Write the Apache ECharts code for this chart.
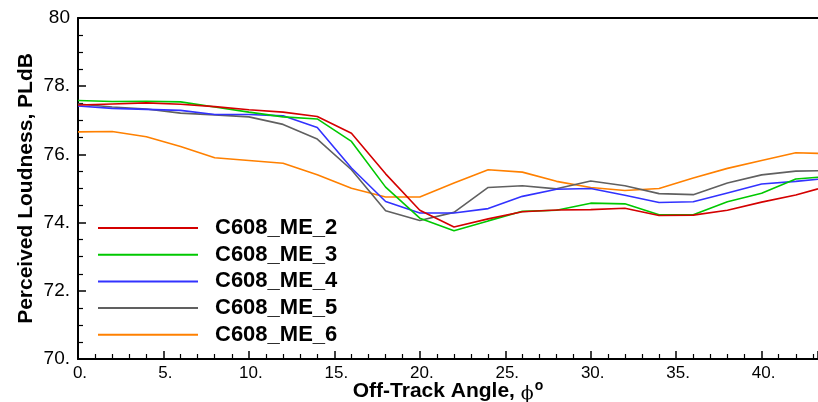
<!DOCTYPE html>
<html><head><meta charset="utf-8">
<script src="https://cdn.jsdelivr.net/npm/echarts@6/dist/echarts.min.js"></script>
<style>html,body{margin:0;padding:0;background:#fff}#c{width:818px;height:402px}</style>
</head><body><div id="c"></div>
<script>
var angles = [0,2,4,6,8,10,12,14,16,18,20,22,24,26,28,30,32,34,36,38,40,42,43.3];
var me2 = [77.45,77.48,77.51,77.47,77.40,77.31,77.24,77.11,76.62,75.43,74.36,73.87,74.11,74.32,74.37,74.38,74.42,74.21,74.22,74.36,74.60,74.81,74.99];
var me3 = [77.58,77.55,77.56,77.54,77.39,77.24,77.10,77.04,76.38,75.04,74.13,73.76,74.05,74.33,74.36,74.57,74.55,74.23,74.23,74.61,74.86,75.28,75.33];
var me4 = [77.42,77.35,77.32,77.29,77.17,77.17,77.13,76.79,75.60,74.62,74.28,74.28,74.41,74.77,74.98,75.00,74.80,74.59,74.61,74.87,75.13,75.21,75.27];
var me5 = [77.48,77.39,77.33,77.21,77.16,77.10,76.88,76.45,75.55,74.35,74.06,74.30,75.03,75.08,74.99,75.22,75.08,74.85,74.82,75.16,75.40,75.51,75.52];
var me6 = [76.66,76.67,76.52,76.23,75.90,75.82,75.74,75.40,75.01,74.75,74.75,75.16,75.55,75.48,75.21,75.03,74.94,75.00,75.31,75.59,75.82,76.05,76.03];
var seriesNames = ['C608_ME_2','C608_ME_3','C608_ME_4','C608_ME_5','C608_ME_6'];
var seriesValues = [me2, me3, me4, me5, me6];
var colors = ['#d40000','#00c800','#3232ff','#606060','#ff8000'];

function pairs(vals){ return angles.map(function(a,i){ return [a, vals[i]]; }); }
var font = 'Liberation Sans, Arial, sans-serif';
var chart = echarts.init(document.getElementById('c'));
chart.setOption({
  animation: false,
  grid: {left: 78, right: 0, top: 18, bottom: 43, outerBoundsMode: 'none', containLabel: false},
  legend: {
    orient: 'vertical', left: 93, top: 212,
    icon: 'rect', itemWidth: 100, itemHeight: 2, itemGap: 4.7,
    textStyle: {fontFamily: font, fontWeight: 'bold', fontSize: 22, color: '#000', lineHeight: 22, padding: [0,0,0,12]},
    data: seriesNames
  },
  xAxis: [{
    type: 'value', min: 0, max: 43.3, interval: 5,
    name: '{b|Off-Track Angle, }{p|ϕ}{s|o}',
    nameLocation: 'middle', nameGap: 20, nameMoveOverlap: false,
    nameTextStyle: {rich: {
      b: {fontFamily: font, fontWeight: 'bold', fontSize: 21, color: '#000'},
      p: {fontFamily: 'DejaVu Serif, serif', fontSize: 19, color: '#000', padding: [6,0,0,0]},
      s: {fontFamily: font, fontWeight: 'bold', fontSize: 14, color: '#000', padding: [0,0,10,1]}
    }},
    axisLine: {show: true, lineStyle: {color: '#000', width: 2}},
    axisTick: {show: true, inside: true, length: 8, lineStyle: {color: '#000', width: 1.5}},
    minorTick: {show: true, splitNumber: 5, length: 5, lineStyle: {color: '#000', width: 1.2}},
    splitLine: {show: false},
    axisLabel: {fontFamily: font, fontSize: 17, color: '#000', margin: 6, padding: [0,0,0,4],
      showMaxLabel: false,
      formatter: function(v){ return (Math.abs(v % 5) < 1e-9) ? (v + '.') : ''; }}
  }, {
    type: 'value', position: 'top', min: 0, max: 43.3,
    axisLine: {show: true, onZero: false, lineStyle: {color: '#000', width: 2}},
    axisTick: {show: false}, axisLabel: {show: false}, splitLine: {show: false}
  }],
  yAxis: {
    type: 'value', min: 70, max: 80, interval: 2,
    name: 'Perceived Loudness, PLdB', nameLocation: 'middle', nameGap: 41, nameMoveOverlap: false,
    nameTextStyle: {fontFamily: font, fontWeight: 'bold', fontSize: 21, color: '#000'},
    axisLine: {show: true, lineStyle: {color: '#000', width: 2}},
    axisTick: {show: true, inside: true, length: 8, lineStyle: {color: '#000', width: 1.5}},
    minorTick: {show: true, splitNumber: 4, length: 5, lineStyle: {color: '#000', width: 1.2}},
    splitLine: {show: false},
    axisLabel: {fontFamily: font, fontSize: 19, color: '#000', margin: 8,
      formatter: function(v){ return v === 80 ? '80' : (v + '.'); }}
  },
  series: seriesNames.map(function(n, i){
    return {name: n, type: 'line', xAxisIndex: 0, data: pairs(seriesValues[i]), showSymbol: false,
      lineStyle: {color: colors[i], width: 1.6}, itemStyle: {color: colors[i]}, z: 10 - i};
  })
});
</script></body></html>
